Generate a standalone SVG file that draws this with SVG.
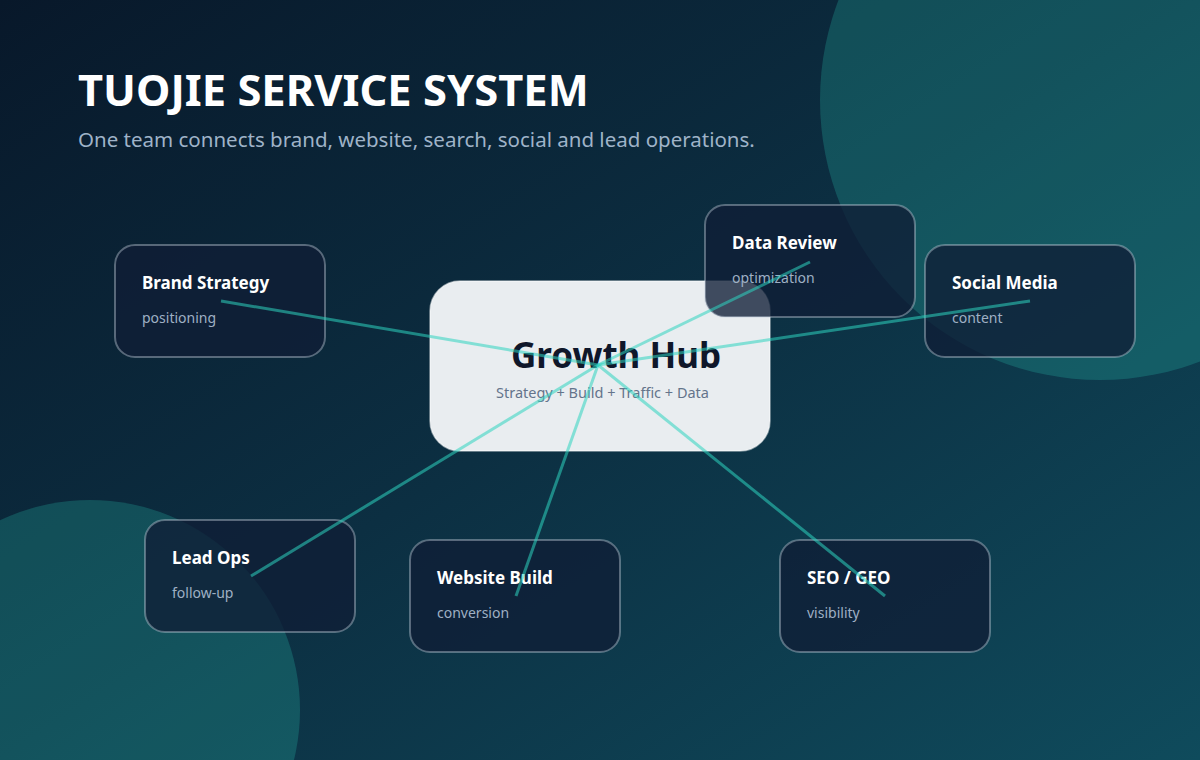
<svg xmlns="http://www.w3.org/2000/svg" width="1200" height="760" viewBox="0 0 1200 760">
  <defs>
    <linearGradient id="bg" x1="0" y1="0" x2="1" y2="1">
      <stop offset="0" stop-color="#08182a"/>
      <stop offset="0.5" stop-color="#0c2f42"/>
      <stop offset="1" stop-color="#0f4b5c"/>
    </linearGradient>
    <style>
      .blob { fill: #2dd4bf; opacity: 0.22; }
      .title { font-family: "Noto Sans", "Open Sans", sans-serif; font-weight: 700; font-size: 43.5px; fill: #ffffff; }
      .subtitle { font-family: "Noto Sans", "Open Sans", sans-serif; font-size: 20.5px; fill: #9fb3c8; }
      .card { fill: #0f1e36; fill-opacity: 0.78; stroke: #cbd5e1; stroke-opacity: 0.4; stroke-width: 2; }
      .card-title { font-family: "Noto Sans", "Open Sans", sans-serif; font-weight: 700; font-size: 17px; fill: #ffffff; }
      .card-sub { font-family: "Noto Sans", "Open Sans", sans-serif; font-size: 14px; fill: #9fb0c4; }
      .hub { fill: #f1f4f6; fill-opacity: 0.97; stroke: #ffffff; stroke-opacity: 0.5; stroke-width: 1.5; }
      .hub-title { font-family: "Noto Sans", "Open Sans", sans-serif; font-weight: 700; font-size: 35px; fill: #0f172a; }
      .hub-sub { font-family: "Noto Sans", "Open Sans", sans-serif; font-size: 14.5px; fill: #64748b; }
      .link { stroke: #2dd4bf; stroke-opacity: 0.55; stroke-width: 3; fill: none; }
    </style>
  </defs>

  <rect x="0" y="0" width="1200" height="760" fill="url(#bg)"/>
  <circle class="blob" cx="1100" cy="100" r="280"/>
  <circle class="blob" cx="90" cy="710" r="210"/>

  <text class="title" x="78" y="106">TUOJIE SERVICE SYSTEM</text>
  <text class="subtitle" x="78" y="147">One team connects brand, website, search, social and lead operations.</text>

  <g id="hub">
    <rect class="hub" x="430" y="281" width="340" height="170" rx="30"/>
    <text class="hub-title" x="511" y="368">Growth Hub</text>
    <text class="hub-sub" x="496" y="398">Strategy + Build + Traffic + Data</text>
  </g>

  <g id="node-brand">
    <rect class="card" x="115" y="245" width="210" height="112" rx="20"/>
    <text class="card-title" x="142" y="289">Brand Strategy</text>
    <text class="card-sub" x="142" y="323">positioning</text>
  </g>
  <g id="node-data">
    <rect class="card" x="705" y="205" width="210" height="112" rx="20"/>
    <text class="card-title" x="732" y="249">Data Review</text>
    <text class="card-sub" x="732" y="283">optimization</text>
  </g>
  <g id="node-social">
    <rect class="card" x="925" y="245" width="210" height="112" rx="20"/>
    <text class="card-title" x="952" y="289">Social Media</text>
    <text class="card-sub" x="952" y="323">content</text>
  </g>
  <g id="node-lead">
    <rect class="card" x="145" y="520" width="210" height="112" rx="20"/>
    <text class="card-title" x="172" y="564">Lead Ops</text>
    <text class="card-sub" x="172" y="598">follow-up</text>
  </g>
  <g id="node-website">
    <rect class="card" x="410" y="540" width="210" height="112" rx="20"/>
    <text class="card-title" x="437" y="584">Website Build</text>
    <text class="card-sub" x="437" y="618">conversion</text>
  </g>
  <g id="node-seo">
    <rect class="card" x="780" y="540" width="210" height="112" rx="20"/>
    <text class="card-title" x="807" y="584">SEO / GEO</text>
    <text class="card-sub" x="807" y="618">visibility</text>
  </g>

  <g id="connectors">
    <line class="link" x1="598" y1="365" x2="221" y2="301"/>
    <line class="link" x1="598" y1="365" x2="810" y2="262"/>
    <line class="link" x1="598" y1="365" x2="1030" y2="301"/>
    <line class="link" x1="598" y1="365" x2="251" y2="576"/>
    <line class="link" x1="598" y1="365" x2="516" y2="596"/>
    <line class="link" x1="598" y1="365" x2="885" y2="596"/>
  </g>
</svg>
